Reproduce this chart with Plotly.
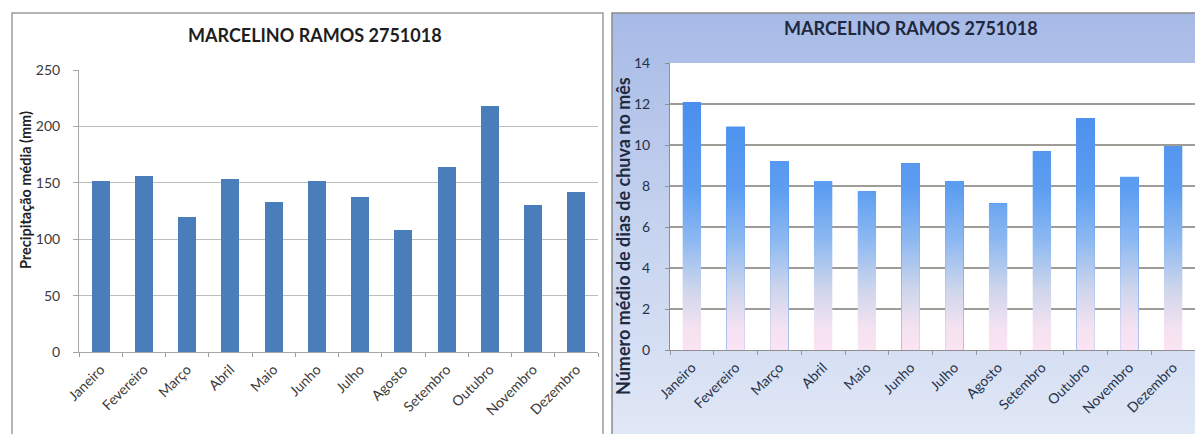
import base64
import plotly.graph_objects as go

# ---------------- data ----------------
meses = ["Janeiro", "Fevereiro", "Março", "Abril", "Maio", "Junho",
         "Julho", "Agosto", "Setembro", "Outubro", "Novembro", "Dezembro"]
precipitacao = [152, 156, 120, 153, 133, 152, 137, 108, 164, 218, 130, 142]
dias_chuva = [12.1, 10.9, 9.2, 8.25, 7.75, 9.1, 8.25, 7.15, 9.7, 11.3, 8.45, 9.95]
titulo = "MARCELINO RAMOS 2751018"
y1_title = "Precipitação média (mm)"
y2_title = "Número médio de dias de chuva no mês"
y1_ticks = [0, 50, 100, 150, 200, 250]
y2_ticks = [0, 2, 4, 6, 8, 10, 12, 14]

W, H = 1195, 434
idx = list(range(len(meses)))
BW = 0.42
FONT = "Lato, Calibri, 'Open Sans', sans-serif"

def px(x):
    return x / W

def py(y):
    return 1 - y / H

fig = go.Figure()

# left chart: solid bars
fig.add_trace(go.Bar(x=idx, y=precipitacao, width=BW, marker=dict(color="#4a7ebb", line=dict(width=0)),
                     xaxis="x", yaxis="y", showlegend=False, hoverinfo="x+y"))

# right chart: bars + gradient fill drawn from the same values
fig.add_trace(go.Bar(x=idx, y=dias_chuva, width=BW, marker=dict(color="#5096f0", line=dict(width=0)),
                     xaxis="x2", yaxis="y2", showlegend=False))
gx, gy = [], []
for i, v in zip(idx, dias_chuva):
    gx += [i - BW / 2, i + BW / 2, i + BW / 2, i - BW / 2, i - BW / 2, None]
    gy += [0, 0, v, v, 0, None]
fig.add_trace(go.Scatter(
    x=gx, y=gy, mode="lines", fill="toself", line=dict(width=0, color="rgba(0,0,0,0)"),
    fillgradient=dict(type="vertical", start=0, stop=12,
                      colorscale=[[0.0, "rgb(251,227,243)"], [0.09, "rgb(244,226,241)"],
                                  [0.25, "rgb(205,213,236)"], [0.45, "rgb(140,184,241)"],
                                  [0.65, "rgb(94,158,241)"], [1.0, "rgb(74,143,238)"]]),
    xaxis="x2", yaxis="y2", showlegend=False, hoverinfo="skip"))

tick_font = dict(family=FONT, size=14, color="#3a3a3a")
tick_font2 = dict(family=FONT, size=14, color="#26324a")
minor_vals = [i - 0.5 for i in range(len(meses) + 1)]

common_x = dict(range=[-0.5, len(meses) - 0.5], tickmode="array", tickvals=idx, ticktext=meses,
                tickangle=-45, ticks="", showgrid=False, zeroline=False, showline=True,
                linewidth=1, fixedrange=True, automargin=False, ticklabelstandoff=3,
                minor=dict(tickmode="array", tickvals=minor_vals, ticks="outside", ticklen=4,
                           tickcolor="#9a9a9a", showgrid=False))

fig.update_layout(
    width=W, height=H, margin=dict(l=0, r=0, t=0, b=0, autoexpand=False),
    paper_bgcolor="white", plot_bgcolor="white", bargap=0,
    font=dict(family=FONT),
    xaxis=dict(common_x, domain=[px(79), px(598)], anchor="y", linecolor="#a6a6a6",
               tickfont=tick_font),
    yaxis=dict(domain=[py(352), py(70)], anchor="x", range=[0, 250], tickmode="array",
               tickvals=y1_ticks, showgrid=True, gridcolor="#bdbdbd", gridwidth=1,
               zeroline=False, showline=True, linecolor="#a6a6a6", ticks="outside", ticklen=5,
               tickcolor="#a6a6a6", tickfont=tick_font, ticklabelstandoff=10, automargin=False),
    xaxis2=dict(common_x, domain=[px(670), 1.0], anchor="y2", linecolor="#8f8f8f",
                tickfont=tick_font2),
    yaxis2=dict(domain=[py(350), py(63)], anchor="x2", range=[0, 14], tickmode="array",
                tickvals=y2_ticks, showgrid=True, gridcolor="#9f9b97", gridwidth=2,
                zeroline=False, showline=True, linecolor="#8f8f8f", ticks="outside", ticklen=4,
                tickcolor="#8f8f8f", tickfont=tick_font2, ticklabelstandoff=12, automargin=False),
)

# right panel gradient background (decoration)
svg = ('<svg xmlns="http://www.w3.org/2000/svg" width="100" height="100" viewBox="0 0 100 100" '
       'preserveAspectRatio="none"><defs><linearGradient id="g" x1="0" y1="0" x2="0" y2="1">'
       '<stop offset="0" stop-color="#a7bae6"/><stop offset="0.5" stop-color="#c6d3ef"/>'
       '<stop offset="1" stop-color="#e1e8f6"/></linearGradient></defs>'
       '<rect width="100" height="100" fill="url(#g)"/></svg>')
uri = "data:image/svg+xml;base64," + base64.b64encode(svg.encode()).decode()
fig.add_layout_image(dict(source=uri, xref="paper", yref="paper", x=px(612), y=py(13),
                          sizex=px(W + 5) - px(612), sizey=py(13) - py(H + 5),
                          sizing="stretch", xanchor="left", yanchor="top", layer="below"))

# white plot area of the right chart
fig.add_shape(type="rect", xref="x2 domain", yref="y2 domain", x0=0, x1=1, y0=0, y1=1,
              layer="below", line=dict(width=0), fillcolor="white")

# panel borders
fig.add_shape(type="rect", xref="paper", yref="paper", x0=px(12), x1=px(603), y0=py(H + 5), y1=py(13),
              line=dict(color="#9c9c9c", width=1.5), fillcolor="rgba(0,0,0,0)")
fig.add_shape(type="rect", xref="paper", yref="paper", x0=px(612), x1=px(W + 5), y0=py(H + 5), y1=py(13),
              line=dict(color="#8a8a8a", width=1.5), fillcolor="rgba(0,0,0,0)")

# titles
fig.add_annotation(text="<b>" + titulo + "</b>", xref="paper", yref="paper", x=px(315), y=py(35),
                   xanchor="center", yanchor="middle", showarrow=False,
                   font=dict(family=FONT, size=18, color="#1e1e1e"))
fig.add_annotation(text="<b>" + titulo + "</b>", xref="paper", yref="paper", x=px(911), y=py(28),
                   xanchor="center", yanchor="middle", showarrow=False,
                   font=dict(family=FONT, size=18, color="#1e2940"))

# axis titles
fig.add_annotation(text="<b>" + y1_title + "</b>", xref="paper", yref="paper", x=px(25), y=py(190),
                   xanchor="center", yanchor="middle", showarrow=False, textangle=-90,
                   font=dict(family=FONT, size=14.5, color="#222"))
fig.add_annotation(text="<b>" + y2_title + "</b>", xref="paper", yref="paper", x=px(623), y=py(236),
                   xanchor="center", yanchor="middle", showarrow=False, textangle=-90,
                   font=dict(family=FONT, size=18, color="#1e2a40"))

fig.write_html("out.html")
